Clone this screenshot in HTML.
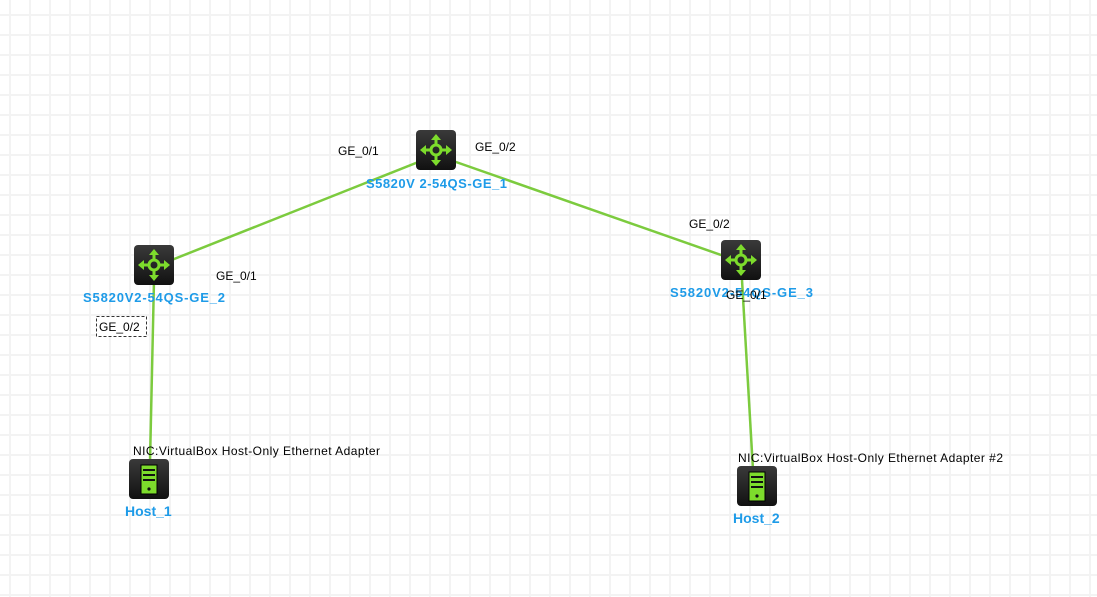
<!DOCTYPE html>
<html><head><meta charset="utf-8"><style>
html,body{margin:0;padding:0;background:#fff;}
svg{display:block;font-family:"Liberation Sans",Arial,sans-serif;}
.l{font-size:12px;fill:#000;}
.n{font-size:13px;font-weight:bold;fill:#1e9be8;}
.h{font-size:14px;font-weight:bold;fill:#1e9be8;}
</style></head><body>
<svg width="1097" height="597" viewBox="0 0 1097 597" xmlns="http://www.w3.org/2000/svg">
<defs>
<pattern id="g" x="9" y="14" width="20" height="20" patternUnits="userSpaceOnUse">
<rect x="0" y="0" width="2" height="20" fill="#f3f3f3"/>
<rect x="0" y="0" width="20" height="2" fill="#f3f3f3"/>
</pattern>
<linearGradient id="ic" x1="0" y1="0" x2="0" y2="1"><stop offset="0" stop-color="#3a3a3a"/><stop offset="1" stop-color="#111"/></linearGradient>
<g id="rt">
<rect x="0" y="0" width="40" height="40" rx="4" fill="url(#ic)"/>
<g stroke="#7ddc2c" stroke-width="3" fill="none" stroke-linecap="round">
<circle cx="20" cy="20" r="5"/>
<line x1="20" y1="15" x2="20" y2="7"/><line x1="20" y1="25" x2="20" y2="33"/>
<line x1="15" y1="20" x2="7" y2="20"/><line x1="25" y1="20" x2="33" y2="20"/>
</g>
<g fill="#7ddc2c">
<polygon points="20,4 15,10 25,10"/><polygon points="20,36 15,30 25,30"/>
<polygon points="4,20 10,15 10,25"/><polygon points="36,20 30,15 30,25"/>
</g>
</g>
<g id="hs">
<rect x="0" y="0" width="40" height="40" rx="4" fill="url(#ic)"/>
<rect x="12" y="6" width="16" height="29" fill="#7ddc2c" stroke="#000" stroke-width="1"/>
<rect x="14" y="10" width="12" height="2" fill="#111"/>
<rect x="14" y="15" width="12" height="2" fill="#111"/>
<rect x="14" y="20" width="12" height="2" fill="#111"/>
<circle cx="20" cy="30" r="1.6" fill="#111"/>
</g>
</defs>
<rect width="1097" height="597" fill="url(#g)"/>
<g stroke="#7ccb3e" stroke-width="2.5">
<line x1="436" y1="155" x2="154" y2="267"/>
<line x1="436" y1="155" x2="741" y2="262"/>
<line x1="154" y1="280" x2="150" y2="462"/>
<line x1="742" y1="280" x2="753" y2="470"/>
</g>
<use href="#rt" x="416" y="130"/>
<use href="#rt" x="134" y="245"/>
<use href="#rt" x="721" y="240"/>
<use href="#hs" x="129" y="459"/>
<use href="#hs" x="737" y="466"/>
<text class="n" x="366" y="188" textLength="141">S5820V 2-54QS-GE_1</text>
<text class="n" x="83" y="302" textLength="142">S5820V2-54QS-GE_2</text>
<text class="n" x="670" y="297" textLength="143">S5820V2-54QS-GE_3</text>
<text class="h" x="125" y="516">Host_1</text>
<text class="h" x="733" y="523">Host_2</text>
<text class="l" x="338" y="155">GE_0/1</text>
<text class="l" x="475" y="151">GE_0/2</text>
<text class="l" x="216" y="280">GE_0/1</text>
<text class="l" x="689" y="228">GE_0/2</text>
<text class="l" x="726" y="299">GE_0/1</text>
<rect x="96.5" y="316.5" width="50" height="20" fill="#fff" stroke="#333" stroke-dasharray="3,2"/>
<text class="l" x="99" y="331">GE_0/2</text>
<text class="l" x="133" y="455" textLength="247">NIC:VirtualBox Host-Only Ethernet Adapter</text>
<text class="l" x="738" y="462" textLength="265">NIC:VirtualBox Host-Only Ethernet Adapter #2</text>
</svg>
</body></html>
